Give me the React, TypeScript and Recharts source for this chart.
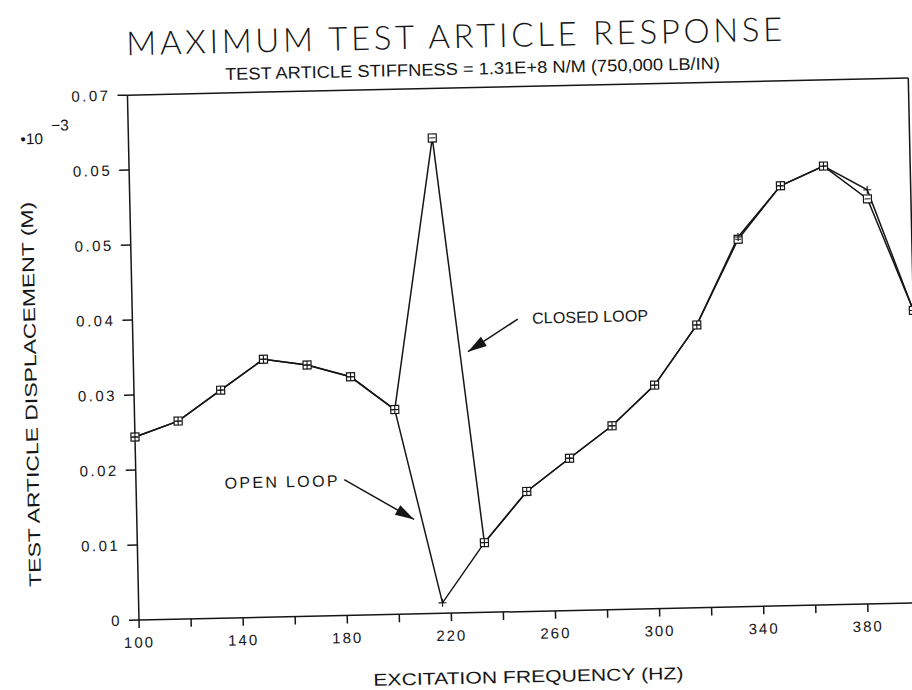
import React from "react";
import { LineChart, Line, XAxis, YAxis, ReferenceLine, ReferenceDot } from "recharts";

// excitation frequency (Hz) of each test point
const freq = [100, 116.7, 133.3, 150, 166.7, 183.3, 200, 216.7, 233.3, 250, 266.7, 283.3, 300, 316.7, 333.3, 350, 366.7, 383.3, 400];
// test article displacement (M, x10^-3)
const closedLoop = [0.0244, 0.0264, 0.0304, 0.0344, 0.0335, 0.0318, 0.0273, 0.0634, 0.0093, 0.016, 0.0203, 0.0245, 0.0298, 0.0377, 0.049, 0.056, 0.0585, 0.054, 0.039];
const openLoop = [0.0244, 0.0264, 0.0304, 0.0344, 0.0335, 0.0318, 0.0273, 0.0014, 0.0093, 0.016, 0.0203, 0.0245, 0.0298, 0.0377, 0.0493, 0.056, 0.0585, 0.0552, 0.039];

const xTicks = [100, 120, 140, 160, 180, 200, 220, 240, 260, 280, 300, 320, 340, 360, 380];
const xLabeled = [100, 140, 180, 220, 260, 300, 340, 380];
const yTicks = [0, 0.01, 0.02, 0.03, 0.04, 0.05, 0.06, 0.07];
const yTickLabels = ["0", "0.01", "0.02", "0.03", "0.04", "0.05", "0.05", "0.07"];

// annotation anchors, in data units
const closedText = { x: 253.5, y: 0.0391 };
const closedArrow = { x1: 248, y1: 0.039, x2: 228.6, y2: 0.0348 };
const openText = { x: 134, y: 0.018 };
const openArrow = { x1: 180, y1: 0.0181, x2: 206.5, y2: 0.0126 };

const data = freq.map((f, i) => ({ f, closed: closedLoop[i], open: openLoop[i] }));

const W = 940;
const H = 700;
const M = { top: 95, right: 20, left: 79, bottom: 50 };
const plotW = W - M.left - M.right - 60;
const plotH = H - M.top - M.bottom - 30;
const pxPerX = plotW / 300;
const pxPerY = plotH / 0.07;

const ink = "#161616";
const font = "'Liberation Sans', Arial, sans-serif";

const SquareDot = (p: any) => {
  const { cx, cy } = p;
  if (cx == null || cy == null) return null;
  return (
    <g key={p.key}>
      <rect x={cx - 4} y={cy - 4} width={8} height={8} fill="#fff" stroke={ink} strokeWidth={1.2} />
      <line x1={cx - 3} x2={cx + 3} y1={cy} y2={cy} stroke={ink} strokeWidth={1} />
    </g>
  );
};

const PlusDot = (p: any) => {
  const { cx, cy } = p;
  if (cx == null || cy == null) return null;
  return (
    <g key={p.key}>
      <line x1={cx - 4} x2={cx + 4} y1={cy} y2={cy} stroke={ink} strokeWidth={1.1} />
      <line x1={cx} x2={cx} y1={cy - 4} y2={cy + 4} stroke={ink} strokeWidth={1.1} />
    </g>
  );
};

function arrowHead(a: { x1: number; y1: number; x2: number; y2: number }) {
  const dx = (a.x2 - a.x1) * pxPerX;
  const dy = -(a.y2 - a.y1) * pxPerY;
  const ang = (Math.atan2(dy, dx) * 180) / Math.PI;
  return (p: any) => (
    <polygon
      points="0,0 -19,-5.5 -19,5.5"
      transform={`translate(${p.cx},${p.cy}) rotate(${ang})`}
      fill={ink}
    />
  );
}

function textAt(label: string, len: number) {
  return (p: any) => (
    <text x={p.cx} y={p.cy} dy="0.35em" fill={ink} fontSize={16} fontFamily={font} textLength={len}>
      {label}
    </text>
  );
}

export default function App() {
  return (
    <div style={{ position: "absolute", left: 0, top: 0, width: 912, height: 690, overflow: "hidden", background: "#fff" }}>
      <div style={{ position: "relative", width: W, height: H, transform: "rotate(-1.26deg)", transformOrigin: "139px 620px" }}>
        <LineChart width={W} height={H} data={data} margin={M}>
          <XAxis
            dataKey="f"
            type="number"
            domain={[100, 400]}
            ticks={xTicks}
            interval={0}
            tickFormatter={(v: number) => (xLabeled.includes(v) ? String(v) : "")}
            height={30}
            tickSize={8}
            tickMargin={9}
            stroke={ink}
            strokeWidth={1.5}
            tick={{ fill: ink, fontSize: 15, fontFamily: font, letterSpacing: 2 }}
          />
          <YAxis
            type="number"
            domain={[0, 0.07]}
            ticks={yTicks}
            interval={0}
            tickFormatter={(v: number, i: number) => yTickLabels[i]}
            width={60}
            tickSize={10}
            tickMargin={7}
            stroke={ink}
            strokeWidth={1.5}
            tick={{ fill: ink, fontSize: 15, fontFamily: font, letterSpacing: 2.5 }}
          />
          <ReferenceLine y={0.07} stroke={ink} strokeWidth={1.5} />
          <ReferenceLine x={400} stroke={ink} strokeWidth={1.5} />
          <Line type="linear" dataKey="closed" stroke={ink} strokeWidth={1.5} dot={SquareDot} isAnimationActive={false} />
          <Line type="linear" dataKey="open" stroke={ink} strokeWidth={1.5} dot={PlusDot} isAnimationActive={false} />
          <ReferenceLine
            segment={[{ x: closedArrow.x1, y: closedArrow.y1 }, { x: closedArrow.x2, y: closedArrow.y2 }]}
            stroke={ink}
            strokeWidth={1.5}
          />
          <ReferenceDot x={closedArrow.x2} y={closedArrow.y2} r={0} shape={arrowHead(closedArrow)} />
          <ReferenceDot x={closedText.x} y={closedText.y} r={0} shape={textAt("CLOSED LOOP", 116)} />
          <ReferenceLine
            segment={[{ x: openArrow.x1, y: openArrow.y1 }, { x: openArrow.x2, y: openArrow.y2 }]}
            stroke={ink}
            strokeWidth={1.5}
          />
          <ReferenceDot x={openArrow.x2} y={openArrow.y2} r={0} shape={arrowHead(openArrow)} />
          <ReferenceDot x={openText.x} y={openText.y} r={0} shape={textAt("OPEN LOOP", 113)} />
        </LineChart>
        <svg width={W} height={H} style={{ position: "absolute", left: 0, top: 0, pointerEvents: "none" }}>
          <text x={139} y={55} fill={ink} fontSize={33} fontFamily="Lato, 'DejaVu Sans', sans-serif" fontWeight={300} textLength={656} lengthAdjust="spacing">
            MAXIMUM TEST ARTICLE RESPONSE
          </text>
          <text x={237} y={82} fill={ink} fontSize={17} fontFamily={font} textLength={495} lengthAdjust="spacingAndGlyphs">
            TEST ARTICLE STIFFNESS = 1.31E+8 N/M (750,000 LB/IN)
          </text>
          <text x={31} y={142} fill={ink} fontSize={15.5} fontFamily={font}>
            {"\u2022"}10
          </text>
          <text x={62} y={129} fill={ink} fontSize={15.5} fontFamily={font}>
            {"\u22123"}
          </text>
          <text
            x={36}
            y={392}
            fill={ink}
            fontSize={17}
            fontFamily={font}
            textAnchor="middle"
            textLength={385}
            lengthAdjust="spacingAndGlyphs"
            transform="rotate(-90 36 392)"
            dy="0.35em"
          >
            TEST ARTICLE DISPLACEMENT (M)
          </text>
          <text x={527} y={685} dy="0.35em" fill={ink} fontSize={17} fontFamily={font} textAnchor="middle" textLength={310} lengthAdjust="spacingAndGlyphs">
            EXCITATION FREQUENCY (HZ)
          </text>
        </svg>
      </div>
    </div>
  );
}
